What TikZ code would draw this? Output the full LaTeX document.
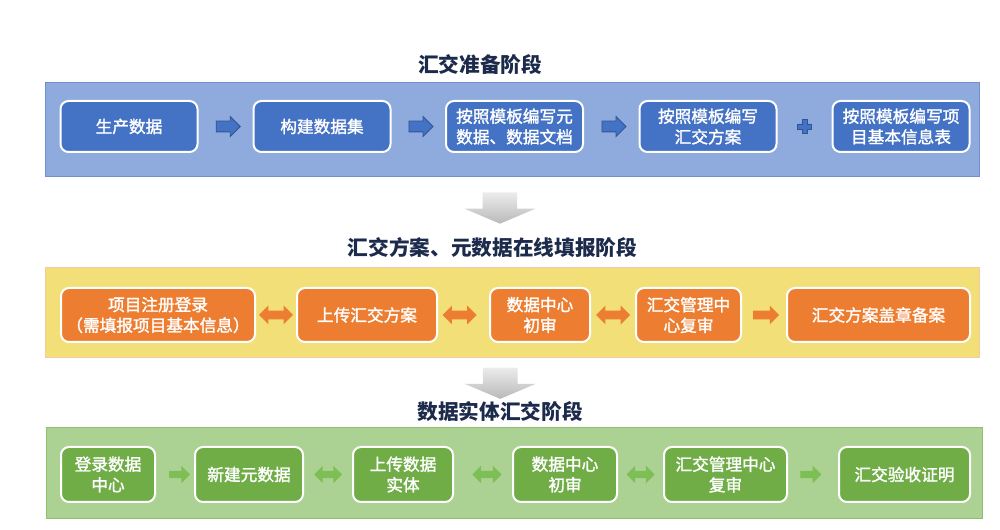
\documentclass[tikz,border=0pt]{standalone}
\usepackage{fontspec}
\setmainfont{Noto Sans CJK SC}
\newfontfamily\boxfont[FakeBold=1.6]{Noto Sans CJK SC}
\usetikzlibrary{shapes.arrows,calc}

\definecolor{titlenavy}{HTML}{1C2A4C}
\definecolor{bandblue}{HTML}{8FAADC}
\definecolor{bandblueline}{HTML}{6E90D0}
\definecolor{boxblue}{HTML}{4472C4}
\definecolor{arrowblueline}{HTML}{2F5597}
\definecolor{bandyellow}{HTML}{F2DF78}
\definecolor{bandyellowline}{HTML}{F6C9A0}
\definecolor{boxorange}{HTML}{ED7D31}
\definecolor{bandgreen}{HTML}{ACD293}
\definecolor{bandgreenline}{HTML}{8DC071}
\definecolor{boxgreen}{HTML}{70AD47}
\definecolor{arrowgreen}{HTML}{7DBE55}

\tikzset{
  phase/.style={font=\bfseries\fontsize{15.5}{18}\selectfont, text=titlenavy, inner sep=0pt},
  band/.style={fill=#1, inner sep=0pt, minimum width=701pt},
  stepbox/.style={fill=#1, draw=white, line width=1.5pt, rounded corners=6pt,
    inner sep=0pt, text=white, align=center,
    font=\boxfont\fontsize{12.5}{15.5}\selectfont},
  rarrow/.style={single arrow, fill=#1, inner xsep=0pt, inner ysep=3.75pt,
    single arrow head extend=3.4pt, minimum height=18pt},
  lrarrow/.style={double arrow, fill=#1, inner xsep=0pt, inner ysep=3pt,
    double arrow head extend=3.75pt, minimum height=25.5pt},
  downarrow/.style={single arrow, shape border rotate=270, inner xsep=12.75pt, inner ysep=0pt,
    top color=gray!15, bottom color=gray!55, draw=none,
    single arrow head extend=13.5pt,
    single arrow tip angle=134, minimum height=23.5pt},
}

\begin{document}
\begin{tikzpicture}[x=0.75pt,y=-0.75pt]
\useasboundingbox (0,0) rectangle (1000,530);

% stage 1
\node[phase] (title1) at (480,65) {汇交准备阶段};
\node[band=bandblue, draw=bandblueline, line width=0.6pt, minimum height=70.5pt] (blueband) at (512.5,129) {};
\node[stepbox=boxblue, minimum width=102.75pt, minimum height=38.25pt] (b1) at (129,126.5) {生产数据};
\node[stepbox=boxblue, minimum width=102.75pt, minimum height=38.25pt] (b2) at (322,126.5) {构建数据集};
\node[stepbox=boxblue, minimum width=102.75pt, minimum height=38.25pt] (b3) at (514.5,126.5) {按照模板编写元\\数据、数据文档};
\node[stepbox=boxblue, minimum width=102.75pt, minimum height=38.25pt] (b4) at (708,126.5) {按照模板编写\\汇交方案};
\node[stepbox=boxblue, minimum width=102.75pt, minimum height=38.25pt] (b5) at (901,126.5) {按照模板编写项\\目基本信息表};

\path (b1.east) -- node[rarrow=boxblue, draw=arrowblueline, line width=0.6pt] (a12) {} (b2.west);
\path (b2.east) -- node[rarrow=boxblue, draw=arrowblueline, line width=0.6pt] (a23) {} (b3.west);
\path (b3.east) -- node[rarrow=boxblue, draw=arrowblueline, line width=0.6pt] (a34) {} (b4.west);
\coordinate (plus) at ($(b4.east)!0.5!(b5.west)$);
\filldraw[fill=boxblue, draw=arrowblueline, line width=0.6pt]
  ($(plus)+(-2.5,-7)$) -- ($(plus)+(2.5,-7)$) -- ($(plus)+(2.5,-2.5)$) -- ($(plus)+(7,-2.5)$)
  -- ($(plus)+(7,2.5)$) -- ($(plus)+(2.5,2.5)$) -- ($(plus)+(2.5,7)$) -- ($(plus)+(-2.5,7)$)
  -- ($(plus)+(-2.5,2.5)$) -- ($(plus)+(-7,2.5)$) -- ($(plus)+(-7,-2.5)$) -- ($(plus)+(-2.5,-2.5)$) -- cycle;

% stage 2
\node[phase] (title2) at (492.5,248) {汇交方案、元数据在线填报阶段};
\path (blueband.south) -- node[downarrow, xshift=-1.9pt, yshift=2pt] (d1) {} (title2.north);
\node[band=bandyellow, draw=bandyellowline, line width=0.6pt, minimum height=67.5pt] (yellowband) at (512.5,312) {};
\node[stepbox=boxorange, minimum width=145.5pt, minimum height=40.5pt] (o1) at (158,315) {项目注册登录\\（需填报项目基本信息）};
\node[stepbox=boxorange, minimum width=105pt, minimum height=40.5pt] (o2) at (367,315) {上传汇交方案};
\node[stepbox=boxorange, minimum width=75pt, minimum height=40.5pt] (o3) at (540,315) {数据中心\\初审};
\node[stepbox=boxorange, minimum width=78.75pt, minimum height=40.5pt] (o4) at (688.5,315) {汇交管理中\\心复审};
\node[stepbox=boxorange, minimum width=137.25pt, minimum height=40.5pt] (o5) at (878.5,315) {汇交方案盖章备案};

\path (o1.east) -- node[lrarrow=boxorange] (c12) {} (o2.west);
\path (o2.east) -- node[lrarrow=boxorange, xshift=-3pt] (c23) {} (o3.west);
\path (o3.east) -- node[lrarrow=boxorange] (c34) {} (o4.west);
\path (o4.east) -- node[rarrow=boxorange, inner ysep=3pt, single arrow head extend=3.75pt, minimum height=19.5pt] (c45) {} (o5.west);

% stage 3
\node[phase] (title3) at (500,412) {数据实体汇交阶段};
\path (yellowband.south) -- node[downarrow, xshift=-4.5pt] (d2) {} (title3.north);
\node[band=bandgreen, draw=bandgreenline, line width=0.6pt, minimum width=702pt, minimum height=68.25pt] (greenband) at (514,472.5) {};
\node[stepbox=boxgreen, minimum width=70.5pt, minimum height=41.25pt] (g1) at (108,474.5) {登录数据\\中心};
\node[stepbox=boxgreen, minimum width=81pt, minimum height=41.25pt] (g2) at (249,474.5) {新建元数据};
\node[stepbox=boxgreen, minimum width=75pt, minimum height=41.25pt] (g3) at (403,474.5) {上传数据\\实体};
\node[stepbox=boxgreen, minimum width=78pt, minimum height=41.25pt] (g4) at (565,474.5) {数据中心\\初审};
\node[stepbox=boxgreen, minimum width=92.25pt, minimum height=41.25pt] (g5) at (725.5,474.5) {汇交管理中心\\复审};
\node[stepbox=boxgreen, minimum width=98.25pt, minimum height=41.25pt] (g6) at (904.5,474.5) {汇交验收证明};

\path (g1.east) -- node[rarrow=arrowgreen, inner ysep=2.6pt, single arrow head extend=3.75pt, minimum height=15.75pt, xshift=2pt] (e12) {} (g2.west);
\path (g2.east) -- node[lrarrow=arrowgreen, inner ysep=2.6pt, minimum height=21pt] (e23) {} (g3.west);
\path (g3.east) -- node[lrarrow=arrowgreen, inner ysep=2.6pt, minimum height=22pt, xshift=3pt] (e34) {} (g4.west);
\path (g4.east) -- node[lrarrow=arrowgreen, inner ysep=2.6pt, minimum height=21pt] (e45) {} (g5.west);
\path (g5.east) -- node[rarrow=arrowgreen, inner ysep=2.6pt, single arrow head extend=3.75pt, minimum height=15.75pt, xshift=-3pt] (e56) {} (g6.west);

\end{tikzpicture}
\end{document}
